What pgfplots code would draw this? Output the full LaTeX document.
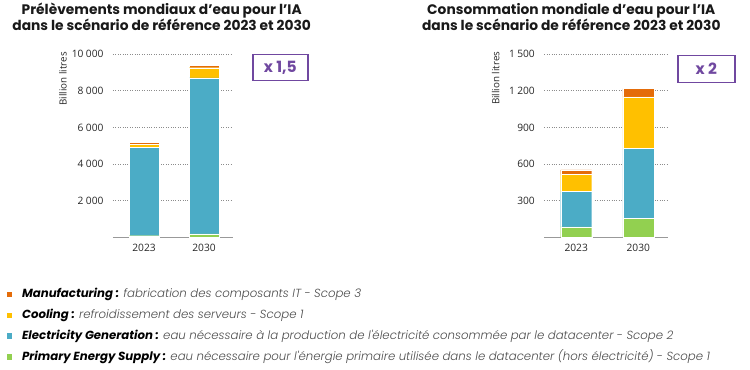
\documentclass[border=0pt]{standalone}
\usepackage{pgfplots}
\pgfplotsset{compat=1.18}
\usepackage{fontspec}
\setmainfont{Poppins}
\newfontfamily\osans{Open Sans}
\newfontfamily\poplight{Poppins}[UprightFont={* Light}, ItalicFont={* Light Italic}, BoldFont={* Bold}, BoldItalicFont={* Bold Italic}]
\definecolor{cManu}{RGB}{228,108,10}
\definecolor{cCool}{RGB}{255,192,0}
\definecolor{cElec}{RGB}{75,172,198}
\definecolor{cPrim}{RGB}{146,208,80}
\definecolor{cPurp}{RGB}{112,72,160}
\pgfplotsset{
  mystyle/.style={
    scale only axis, ybar stacked, ymin=0, enlargelimits=false,
    axis x line*=bottom, axis y line*=left,
    y axis line style={draw=none},
    x axis line style={draw=black!40, line width=1pt},
    major tick length=0pt,
    ymajorgrids, grid style={dotted, black!45, line width=0.9pt},
    xtick={0,1}, xticklabels={2023,2030},
    scaled y ticks=false,
    tick label style={font=\osans\fontsize{10.2}{12}\selectfont, text=black!85},
    yticklabel style={xshift=-6pt},
    xticklabel style={yshift=-3pt},
    /pgf/number format/assume math mode=true,
    /pgf/number format/1000 sep={\hspace{2.4pt}},
    ylabel={Billion litres},
    ylabel style={font=\osans\fontsize{9.8}{11}\selectfont, text=black!85, anchor=center},
    legend image code/.code={\fill[#1, draw=none] (0pt,-2.6pt) rectangle (5.2pt,2.6pt);},
  },
  bars/.style={draw=white, line width=0.4pt}
}
\begin{document}
\begin{tikzpicture}
\path (0pt,0pt) rectangle (750pt,369pt);
% left chart
\begin{axis}[mystyle,
  at={(113pt,132.3pt)}, anchor=south west,
  width=120pt, height=183.4pt,
  xmin=-0.517, xmax=1.483, ymax=10000,
  ytick={2000,4000,6000,8000,10000},
  bar width=30pt,
  ylabel style={at={(axis description cs:-0.417,0.865)}},
  reverse legend,
  legend style={at={(axis description cs:-0.886,-0.277)}, anchor=north west,
    draw=none, fill=none, inner sep=0pt, column sep=10pt, row sep=9.4pt,
    font=\fontsize{11.75}{14}\selectfont,
    nodes={inner sep=0pt, text height=9pt, text depth=2.5pt}},
  legend cell align=left,
]
\addplot[bars, fill=cPrim] coordinates {(0,100) (1,200)};
\addplot[bars, fill=cElec] coordinates {(0,4800) (1,8500)};
\addplot[bars, fill=cCool] coordinates {(0,180) (1,560)};
\addplot[bars, fill=cManu] coordinates {(0,120) (1,130)};
\legend{
  {\textbf{\textit{Primary Energy Supply :}} {\poplight\itshape\color{black!70} eau nécessaire pour l'énergie primaire utilisée dans le datacenter (hors électricité) - Scope 1}},
  {\textbf{\textit{Electricity Generation :}} {\poplight\itshape\color{black!70} eau nécessaire à la production de l'électricité consommée par le datacenter - Scope 2}},
  {\textbf{\textit{Cooling :}} {\poplight\itshape\color{black!70} refroidissement des serveurs - Scope 1}},
  {\textbf{\textit{Manufacturing :}} {\poplight\itshape\color{black!70} fabrication des composants IT - Scope 3}}
}
\end{axis}
% right chart
\begin{axis}[mystyle,
  at={(544.3pt,132.3pt)}, anchor=south west,
  width=123.4pt, height=183.4pt,
  xmin=-0.514, xmax=1.473, ymax=1500,
  ytick={300,600,900,1200,1500},
  bar width=31pt,
  ylabel style={at={(axis description cs:-0.394,0.868)}},
]
\addplot[bars, fill=cPrim] coordinates {(0,87) (1,155)};
\addplot[bars, fill=cElec] coordinates {(0,289) (1,572)};
\addplot[bars, fill=cCool] coordinates {(0,139) (1,423)};
\addplot[bars, fill=cManu] coordinates {(0,38) (1,68)};
\end{axis}
% titles
\node[anchor=base, font=\bfseries\fontsize{13.8}{16}\selectfont, text=black!90] at (161.7pt,355pt) {Prélèvements mondiaux d'eau pour l’IA};
\node[anchor=base, font=\bfseries\fontsize{13.8}{16}\selectfont, text=black!90] at (161.7pt,339pt) {dans le scénario de référence 2023 et 2030};
\node[anchor=base, font=\bfseries\fontsize{13.8}{16}\selectfont, text=black!90] at (571.3pt,355pt) {Consommation mondiale d'eau pour l’IA};
\node[anchor=base, font=\bfseries\fontsize{13.8}{16}\selectfont, text=black!90] at (571.3pt,339pt) {dans le scénario de référence 2023 et 2030};
% growth boxes
\node[draw=cPurp, line width=1.6pt, minimum width=55pt, minimum height=26pt, inner sep=0pt,
  text=cPurp, font=\bfseries\fontsize{15.5}{17}\selectfont] at (280.3pt,302.3pt) {x 1,5};
\node[draw=cPurp, line width=1.6pt, minimum width=57pt, minimum height=27pt, inner sep=0pt,
  text=cPurp, font=\bfseries\fontsize{15.5}{17}\selectfont] at (706.3pt,301pt) {x 2};
\end{tikzpicture}
\end{document}
